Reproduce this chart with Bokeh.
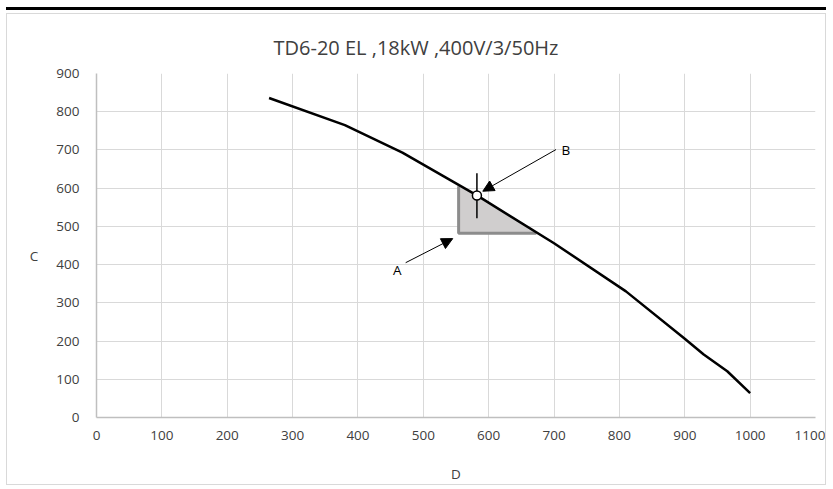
from bokeh.plotting import figure
from bokeh.models import (Range1d, Arrow, NormalHead, Label, SingleIntervalTicker)
from bokeh.embed import file_html
from bokeh.resources import INLINE

# ---- data ----
title_text = "TD6-20 EL ,18kW ,400V/3/50Hz"
x_label = "D"
y_label = "C"

curve_x = [264, 380, 468, 582, 700, 810, 900, 929, 965, 1000]
curve_y = [836, 765, 693, 581, 456, 330, 206, 165, 121, 64]

region_x = [554, 554, 582, 673]
region_y = [482, 605, 581, 482]
region_edge_x = [554, 554, 673]
region_edge_y = [605, 482, 482]

op_x = [582]
op_y = [581]
op_low = [521]
op_high = [639]

label_a = "A"
label_a_pos = (460, 386)
arrow_a = (473, 405, 545, 468)
label_b = "B"
label_b_pos = (718, 700)
arrow_b = (703, 701, 591, 592)

FONT = "Open Sans"
TXT = "#404040"

p = figure(width=820, height=472, x_range=Range1d(0, 1100), y_range=Range1d(0, 900),
           output_backend="svg", toolbar_location=None,
           min_border_left=89, min_border_right=12, min_border_top=59, min_border_bottom=69)
p.styles = {"border": "1px solid #d9d9d9",
            "margin-top": "13px", "margin-left": "6px",
            "box-shadow": "0 -3px 0 0 white, 0 -6px 0 0 black"}
p.outline_line_color = None
p.background_fill_color = "white"

p.title.text = title_text
p.title.align = "left"
p.title.offset = 177
p.title.standoff = 25
p.title.text_font = FONT
p.title.text_font_size = "20px"
p.title.text_font_style = "normal"
p.title.text_color = TXT

for ax in (p.xaxis, p.yaxis):
    ax.ticker = SingleIntervalTicker(interval=100)
    ax.axis_line_color = "#bfbfbf"
    ax.axis_line_width = 1.5
    ax.major_tick_line_color = None
    ax.minor_tick_line_color = None
    ax.major_tick_in = 0
    ax.major_tick_out = 0
    ax.major_label_text_font = FONT
    ax.major_label_text_font_size = "13.5px"
    ax.major_label_text_color = TXT
    ax.axis_label_text_font = FONT
    ax.axis_label_text_font_size = "13.5px"
    ax.axis_label_text_font_style = "normal"
    ax.axis_label_text_color = TXT
p.xaxis.major_label_standoff = 9
p.yaxis.major_label_standoff = 13
p.xaxis.axis_label = x_label
p.xaxis.axis_label_standoff = 22
p.yaxis.axis_label = "\n" + y_label
p.yaxis.axis_label_orientation = "horizontal"
p.yaxis.axis_label_standoff = 15

p.grid.grid_line_color = "#d9d9d9"
p.grid.grid_line_width = 1
p.xgrid.ticker = SingleIntervalTicker(interval=100)
p.ygrid.ticker = SingleIntervalTicker(interval=100)

# shaded region
p.patch(region_x, region_y, fill_color="#d0cece", line_color=None)
p.line(region_edge_x, region_edge_y, line_color="#8c8c8c", line_width=3)

# curve
p.line(curve_x, curve_y, line_color="black", line_width=2.5)

# operating point with error bar
p.segment(x0=op_x, y0=op_low, x1=op_x, y1=op_high, line_color="black", line_width=1.5)
p.scatter(op_x, op_y, size=9, fill_color="white", line_color="black", line_width=1.5)

# arrows and labels
p.add_layout(Arrow(x_start=arrow_a[0], y_start=arrow_a[1], x_end=arrow_a[2], y_end=arrow_a[3],
                   line_width=1, line_color="black",
                   end=NormalHead(size=11, fill_color="black", line_color="black")))
p.add_layout(Arrow(x_start=arrow_b[0], y_start=arrow_b[1], x_end=arrow_b[2], y_end=arrow_b[3],
                   line_width=1, line_color="black",
                   end=NormalHead(size=11, fill_color="black", line_color="black")))
p.add_layout(Label(x=label_a_pos[0], y=label_a_pos[1], text=label_a, text_align="center",
                   text_baseline="middle", text_font=FONT, text_font_size="13.5px", text_color="black"))
p.add_layout(Label(x=label_b_pos[0], y=label_b_pos[1], text=label_b, text_align="center",
                   text_baseline="middle", text_font=FONT, text_font_size="13.5px", text_color="black"))

open("out.html", "w").write(file_html(p, INLINE))
